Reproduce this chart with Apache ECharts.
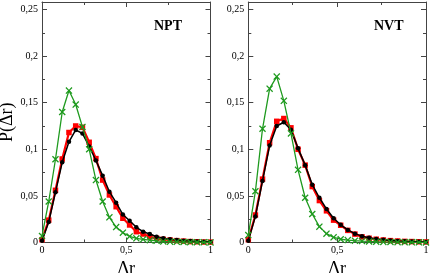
<!DOCTYPE html>
<html><head><meta charset="utf-8">
<script src="https://cdn.jsdelivr.net/npm/echarts@6/dist/echarts.min.js"></script>
<style>html,body{margin:0;padding:0;background:#fff}#c{width:430px;height:273px}</style>
</head><body><div id="c"></div>
<script>
const xs = [0,0.04,0.08,0.12,0.16,0.2,0.24,0.28,0.32,0.36,0.4,0.44,0.48,0.52,0.56,0.6,0.64,0.68,0.72,0.76,0.8,0.84,0.88,0.92,0.96,1.0];
const nptBlack = [0.002,0.022,0.054,0.086,0.108,0.1207,0.117,0.103,0.088,0.0717,0.0545,0.0427,0.030,0.0234,0.0163,0.0116,0.0091,0.0062,0.0045,0.0034,0.0027,0.002,0.0015,0.001,0.0008,0.0005];
const nptRed = [0.003,0.024,0.056,0.0896,0.118,0.125,0.1236,0.1075,0.090,0.067,0.051,0.0384,0.026,0.0188,0.0116,0.0091,0.0062,0.0045,0.0034,0.0027,0.002,0.0015,0.001,0.0008,0.0005,0.0004];
const nptGreen = [0.007,0.044,0.0893,0.14,0.163,0.148,0.124,0.100,0.067,0.044,0.027,0.0165,0.0105,0.0065,0.0045,0.0034,0.0025,0.0018,0.0012,0.0009,0.0007,0.0005,0.0004,0.0003,0.0002,0.0001];
const nvtBlack = [0.002,0.028,0.066,0.104,0.125,0.129,0.121,0.101,0.083,0.062,0.048,0.036,0.026,0.019,0.0135,0.0095,0.0068,0.005,0.0038,0.003,0.0022,0.0017,0.0013,0.001,0.0008,0.0006];
const nvtRed = [0.003,0.0295,0.068,0.107,0.130,0.133,0.123,0.100,0.083,0.060,0.045,0.034,0.024,0.0185,0.013,0.009,0.006,0.0045,0.0035,0.0027,0.002,0.0016,0.0012,0.001,0.0008,0.0006];
const nvtGreen = [0.008,0.055,0.122,0.165,0.178,0.152,0.117,0.078,0.048,0.0306,0.017,0.0095,0.0055,0.0035,0.0026,0.002,0.0015,0.0011,0.0008,0.0006,0.0005,0.0004,0.0003,0.0002,0.0002,0.0001];
const yTickLabels = {0:'0',0.05:'0,05',0.1:'0,1',0.15:'0,15',0.2:'0,2',0.25:'0,25'};
const xTickLabels = {0:'0',0.5:'0,5',1:'1'};
const panelTitles = ['NPT','NVT'];

const FONT = 'Liberation Serif';
const AX = '#444';
const pair = ys => xs.map((x,i)=>[x,ys[i]]);
const cross = 'path://M0,1.3L1.3,0L5,3.7L8.7,0L10,1.3L6.3,5L10,8.7L8.7,10L5,6.3L1.3,10L0,8.7L3.7,5Z';

const grids = [
  {left:42, right:219.5, top:2, bottom:30.5, outerBoundsMode:'none', containLabel:false},
  {left:248.3, right:4, top:2, bottom:30.5, outerBoundsMode:'none', containLabel:false}
];
const xAxes = [], yAxes = [];
grids.forEach((g,gi)=>{
  const common = {gridIndex:gi, min:0, max:1, interval:0.5, type:'value',
    axisLine:{show:true,onZero:false,lineStyle:{color:AX,width:1}},
    axisTick:{show:true,inside:true,length:5,lineStyle:{color:AX}},
    minorTick:{show:true,splitNumber:2,length:3,lineStyle:{color:AX}},
    splitLine:{show:false}};
  xAxes.push(Object.assign({}, common, {position:'bottom',
    axisLabel:{show:true,fontFamily:FONT,fontSize:10,color:'#000',margin:3,formatter:v=>xTickLabels[v]!==undefined?xTickLabels[v]:''},
    name:'Δr', nameLocation:'middle', nameGap:18, nameTextStyle:{fontFamily:FONT,fontSize:18,color:'#000'}}));
  xAxes.push(Object.assign({}, common, {position:'top', axisLabel:{show:false}}));
  const ycommon = {gridIndex:gi, min:0, max:0.258, interval:0.05, type:'value',
    axisLine:{show:true,onZero:false,lineStyle:{color:AX,width:1}},
    axisTick:{show:true,inside:true,length:5,lineStyle:{color:AX}},
    minorTick:{show:true,splitNumber:2,length:3,lineStyle:{color:AX}},
    splitLine:{show:false}};
  yAxes.push(Object.assign({}, ycommon, {position:'left',
    axisLabel:{show:true,fontFamily:FONT,fontSize:10,color:'#000',margin:4,showMaxLabel:false,
      formatter:v=>{const k=Math.round(v*100)/100; return yTickLabels[k]!==undefined?yTickLabels[k]:'';}},
    name: gi===0?'P(Δr)':'', nameLocation:'middle', nameGap:25, nameTextStyle:{fontFamily:FONT,fontSize:18,color:'#000'}}));
  yAxes.push(Object.assign({}, ycommon, {position:'right', axisLabel:{show:false}}));
});

function mk(gi, ys, color, symbol, size, width, z){
  return {type:'line', xAxisIndex:gi*2, yAxisIndex:gi*2, data:pair(ys), symbol:symbol, symbolSize:size,
    showSymbol:true, lineStyle:{color:color,width:width}, itemStyle:{color:color}, z:z, animation:false,
    emphasis:{disabled:true}};
}
const series = [
  mk(0,nptRed,'#ff0000','rect',5.5,2.2,2),
  mk(0,nptBlack,'#000000','circle',4.5,1.5,3),
  mk(0,nptGreen,'#1e9a1e',cross,7,1.3,4),
  mk(1,nvtRed,'#ff0000','rect',5.5,2.2,2),
  mk(1,nvtBlack,'#000000','circle',4.5,1.5,3),
  mk(1,nvtGreen,'#1e9a1e',cross,7,1.3,4)
];

const chart = echarts.init(document.getElementById('c'), null, {renderer:'canvas'});
chart.setOption({
  animation:false,
  grid:grids, xAxis:xAxes, yAxis:yAxes, series:series,
  graphic:[
    {type:'text', left:154, top:19, style:{text:panelTitles[0], font:'bold 14px "Liberation Serif"', fill:'#000'}},
    {type:'text', left:374, top:19, style:{text:panelTitles[1], font:'bold 14px "Liberation Serif"', fill:'#000'}}
  ]
});
</script></body></html>
